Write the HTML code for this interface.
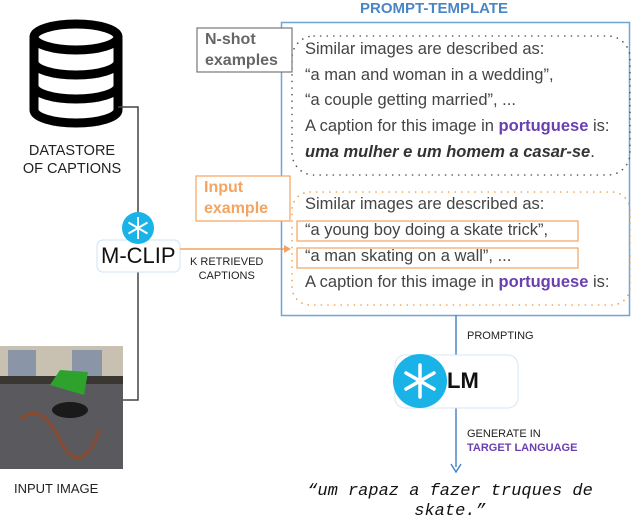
<!DOCTYPE html>
<html><head><meta charset="utf-8"><style>
body{margin:0;width:640px;height:519px;position:relative;background:#fff;font-family:"Liberation Sans",sans-serif;overflow:hidden}
.a{position:absolute;white-space:nowrap}
.t{position:absolute;left:305px;font-size:16.5px;color:#444;white-space:nowrap}
.p{color:#6a3fb0;font-weight:bold}
</style></head><body>
<svg class="a" style="left:0;top:0" width="640" height="519">
<g fill="none" stroke="#000" stroke-width="9">
<ellipse cx="76" cy="37" rx="42" ry="13"/>
<path d="M34 37 V110 A42 13 0 0 0 118 110 V37"/>
<path d="M34 62 A42 13 0 0 0 118 62 M34 86 A42 13 0 0 0 118 86"/>
</g>
<path d="M118 107 H138 V400 H123" fill="none" stroke="#444" stroke-width="1.5"/>
<rect x="97" y="240" width="83" height="32" rx="6" fill="#fff" stroke="#cfe3f5"/>
<circle cx="138" cy="228" r="16" fill="#1ab3e8"/>
<g stroke="#fff" stroke-width="2"><path d="M138 217V239M128.5 222.5L147.5 233.5M128.5 233.5L147.5 222.5"/></g>
<path d="M180 249 H288" stroke="#f4a460" stroke-width="1.5"/>
<path d="M284 245 L291 249 L284 253Z" fill="#f4a460"/>
<rect x="281.5" y="22.5" width="348" height="293" fill="none" stroke="#6fa6d8" stroke-width="1.5"/>
<rect x="292" y="36" width="338" height="139" rx="22" fill="none" stroke="#555" stroke-width="1.6" stroke-dasharray="0.1 6.5" stroke-linecap="round"/>
<rect x="292" y="192" width="338" height="113" rx="18" fill="none" stroke="#f39c3c" stroke-width="1.6" stroke-dasharray="0.1 6.5" stroke-linecap="round"/>
<rect x="297" y="221" width="281" height="20" fill="#fff" stroke="#f4a460" stroke-width="1.2"/>
<rect x="297" y="248" width="281" height="20" fill="#fff" stroke="#f4a460" stroke-width="1.2"/>
<rect x="197" y="28" width="95" height="44" fill="#fff" stroke="#777" stroke-width="1.2"/>
<rect x="196" y="176" width="94" height="45" fill="#fff" stroke="#f4a460" stroke-width="1.2"/>
<path d="M456 315 V355 M456 408 V467" stroke="#4a86c5" stroke-width="1.5"/>
<path d="M451 464 L456 472 L461 464" fill="none" stroke="#4a86c5" stroke-width="1.5"/>
<rect x="395" y="355" width="123" height="53" rx="10" fill="#fff" stroke="#d5e6f5"/>
<circle cx="420" cy="381" r="27" fill="#1ab3e8"/>
<g stroke="#fff" stroke-width="3.5" stroke-linecap="round"><path d="M420 365V397M406 373L434 389M406 389L434 373"/></g>
<rect x="0" y="346" width="123" height="123" fill="#5a5a5e"/>
<rect x="0" y="346" width="123" height="30" fill="#c8c0b0"/>
<rect x="8" y="350" width="28" height="26" fill="#8a96a8"/>
<rect x="72" y="350" width="30" height="26" fill="#8a96a8"/>
<rect x="0" y="376" width="123" height="8" fill="#3a3632"/>
<path d="M50 385 L60 370 L88 372 L84 395 Z" fill="#2da32d"/>
<ellipse cx="70" cy="410" rx="18" ry="8" fill="#1a1a1a"/>
<path d="M20 420 Q40 400 60 440 T100 430" fill="none" stroke="#8b4a30" stroke-width="3"/>
</svg>
<div class="a" style="left:360px;top:0px;font-size:15px;font-weight:bold;color:#4a86c5">PROMPT-TEMPLATE</div>
<div class="a" style="left:205px;top:29px;font-size:16px;font-weight:bold;color:#666;line-height:21px">N-shot<br>examples</div>
<div class="a" style="left:204px;top:177px;font-size:16px;font-weight:bold;color:#f4a460;line-height:21px">Input<br>example</div>
<div class="a" style="left:20px;top:142px;font-size:14.5px;color:#222;text-align:center;line-height:18px;width:104px">DATASTORE<br>OF CAPTIONS</div>
<div class="a" style="left:101px;top:243px;font-size:22px;color:#111">M-CLIP</div>
<div class="a" style="left:190px;top:255px;font-size:11px;color:#222;text-align:center;line-height:14px">K RETRIEVED<br>CAPTIONS</div>
<div class="a" style="left:14px;top:481px;font-size:13px;color:#222">INPUT IMAGE</div>
<div class="t" style="top:40px">Similar images are described as:</div>
<div class="t" style="top:66px">“a man and woman in a wedding”,</div>
<div class="t" style="top:91px">“a couple getting married”, ...</div>
<div class="t" style="top:117px">A caption for this image in <span class="p">portuguese</span> is:</div>
<div class="t" style="top:143px;font-weight:bold;font-style:italic;color:#333">uma mulher e um homem a casar-se<span style="font-weight:normal;font-style:normal">.</span></div>
<div class="t" style="top:195px">Similar images are described as:</div>
<div class="t" style="top:221px">“a young boy doing a skate trick”,</div>
<div class="t" style="top:247px">“a man skating on a wall”, ...</div>
<div class="t" style="top:273px">A caption for this image in <span class="p">portuguese</span> is:</div>
<div class="a" style="left:467px;top:330px;font-size:11px;color:#222">PROMPTING</div>
<div class="a" style="left:447px;top:368px;font-size:22px;font-weight:bold;color:#111">LM</div>
<div class="a" style="left:467px;top:427px;font-size:11px;color:#222;line-height:14px">GENERATE IN<br><span style="color:#6a3fb0;font-weight:bold">TARGET LANGUAGE</span></div>
<div class="a" style="left:300px;top:482px;width:300px;text-align:center;font-family:'Liberation Mono',monospace;font-style:italic;font-size:17px;color:#111;line-height:20px;white-space:normal">“um rapaz a fazer truques de skate.”</div>
</body></html>
